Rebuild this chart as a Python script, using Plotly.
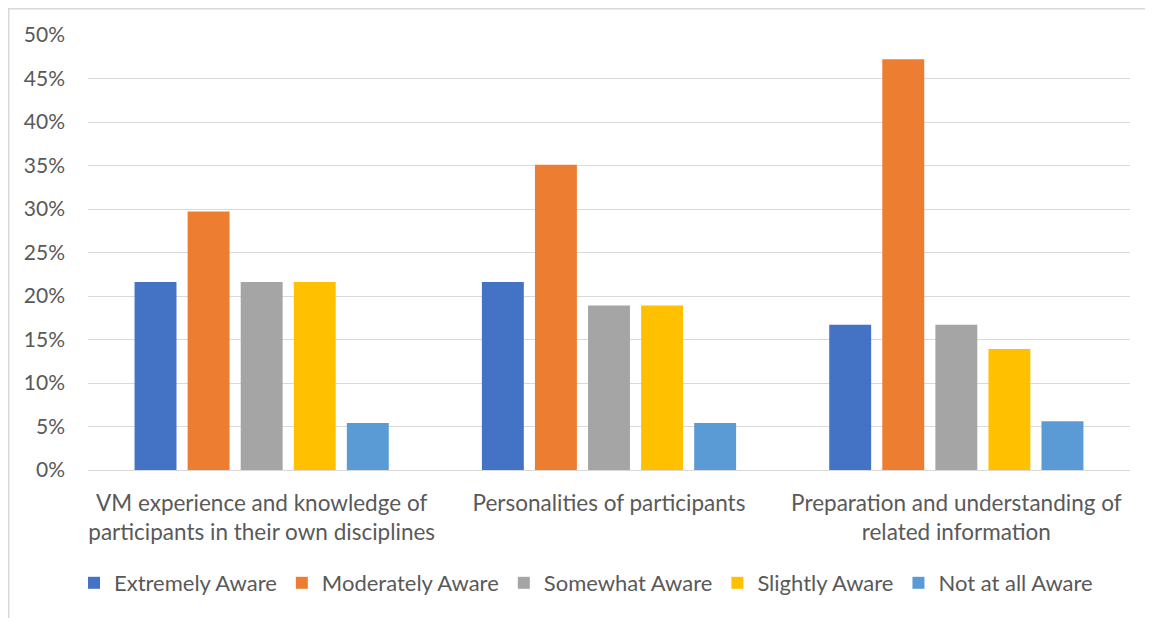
import plotly.graph_objects as go

categories = [
    "VM experience and knowledge of<br>participants in their own disciplines",
    "Personalities of participants",
    "Preparation and understanding of<br>related information",
]
series_names = ["Extremely Aware", "Moderately Aware", "Somewhat Aware", "Slightly Aware", "Not at all Aware"]
colors = ["#4472C4", "#ED7D31", "#A5A5A5", "#FFC000", "#5B9BD5"]
extremely = [0.216, 0.216, 0.167]
moderately = [0.297, 0.351, 0.472]
somewhat = [0.216, 0.189, 0.167]
slightly = [0.216, 0.189, 0.139]
not_at_all = [0.054, 0.054, 0.056]
values = [extremely, moderately, somewhat, slightly, not_at_all]
y_ticks = [0, 0.05, 0.10, 0.15, 0.20, 0.25, 0.30, 0.35, 0.40, 0.45, 0.50]

FONT = "Lato"
TXT = "#595959"

fig = go.Figure()
for name, col, vals in zip(series_names, colors, values):
    fig.add_trace(go.Bar(name=name, x=categories, y=vals, marker=dict(color=col, line=dict(width=0))))

OFF = 8  # page body margin
W, H = 1153 - OFF, 618 - OFF
L, R, T, B = 88 - OFF, 23, 35 - OFF, 148
pw = W - L - R
ph = H - T - B

fig.update_layout(
    width=W, height=H,
    margin=dict(l=L, r=R, t=T, b=B, pad=0),
    paper_bgcolor="white", plot_bgcolor="white",
    barmode="group", bargap=0.236, bargroupgap=0.21,
    font=dict(family=FONT, size=22, color=TXT),
    showlegend=True,
    legend=dict(orientation="h", x=(586 - L - OFF) / pw, xanchor="center", y=-(583 - 470) / ph, yanchor="middle",
                font=dict(family=FONT, size=22, color=TXT), itemwidth=30, traceorder="normal"),
    xaxis=dict(showgrid=False, showline=True, linecolor="#D9D9D9", linewidth=1, ticks="",
               tickfont=dict(family=FONT, size=22.5, color=TXT), ticklabelstandoff=13),
    yaxis=dict(range=[0, 0.5], tickvals=y_ticks, tickformat=".0%", showgrid=True, gridcolor="#D9D9D9",
               gridwidth=1, zeroline=False, showline=False, ticks="",
               tickfont=dict(family=FONT, size=21, color=TXT), ticklabelstandoff=22),
)

# chart border (at the figure's own top-left edge)
x0 = (0.75 - L) / pw
y1 = 1 + (T - 0.75) / ph
fig.add_shape(type="rect", xref="paper", yref="paper", x0=x0, x1=1.2, y0=-1, y1=y1,
              line=dict(color="#D9D9D9", width=1.5), layer="below")

fig.write_html("out.html")
